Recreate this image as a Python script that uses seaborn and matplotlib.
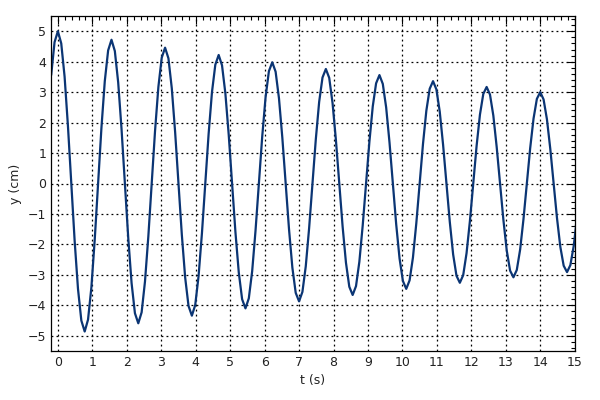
import numpy as np
import pandas as pd
import matplotlib
matplotlib.use("Agg")
import matplotlib.pyplot as plt
from matplotlib.ticker import MultipleLocator
import seaborn as sns

# sampled position of the oscillator, one reading every 0.0972 s starting at t = -0.194 s
t_start = -0.1944
t_step = 0.0972
y_cm = [
    3.56, 4.64,
    5.00, 4.60, 3.51, 1.89, 0.00, -1.88, -3.46, -4.50, -4.86, -4.47, -3.41, -1.84, 0.00, 1.83, 3.36, 4.37,
    4.72, 4.35, 3.32, 1.79, 0.00, -1.78, -3.27, -4.26, -4.59, -4.23, -3.22, -1.74, 0.00, 1.72, 3.17, 4.13,
    4.46, 4.11, 3.13, 1.69, 0.00, -1.68, -3.09, -4.02, -4.34, -3.99, -3.04, -1.64, 0.00, 1.63, 3.00, 3.90,
    4.22, 3.88, 2.96, 1.60, 0.00, -1.59, -2.92, -3.80, -4.10, -3.77, -2.88, -1.55, 0.00, 1.54, 2.83, 3.69,
    3.98, 3.67, 2.80, 1.51, 0.00, -1.50, -2.76, -3.59, -3.87, -3.56, -2.72, -1.47, 0.00, 1.45, 2.68, 3.48,
    3.76, 3.47, 2.64, 1.43, 0.00, -1.41, -2.60, -3.39, -3.66, -3.37, -2.57, -1.38, 0.00, 1.37, 2.53, 3.29,
    3.56, 3.27, 2.50, 1.35, 0.00, -1.34, -2.46, -3.20, -3.46, -3.18, -2.43, -1.31, 0.00, 1.30, 2.39, 3.11,
    3.36, 3.09, 2.36, 1.27, 0.00, -1.26, -2.33, -3.03, -3.26, -3.01, -2.29, -1.24, 0.00, 1.23, 2.26, 2.94,
    3.17, 2.92, 2.23, 1.20, 0.00, -1.19, -2.20, -2.86, -3.08, -2.84, -2.17, -1.17, 0.00, 1.16, 2.13, 2.78,
    3.00, 2.76, 2.11, 1.14, 0.00, -1.13, -2.08, -2.70, -2.91, -2.68, -2.05, -1.10,
]

x_ticks = list(range(0, 16))
y_ticks = list(range(-5, 6))

df = pd.DataFrame({"t": t_start + t_step * np.arange(len(y_cm)), "y": y_cm})

sns.set_style("white")
plt.rcParams["font.family"] = ["DejaVu Sans"]

fig = plt.figure(figsize=(6, 4), dpi=100)
ax = fig.add_axes([0.085, 0.1225, 0.873, 0.8375])

sns.lineplot(data=df, x="t", y="y", ax=ax, color="#0b3574", linewidth=1.6)

ax.set_xlim(-0.2, 15)
ax.set_ylim(-5.5, 5.5)
ax.set_xticks(x_ticks)
ax.set_yticks(y_ticks)
ax.xaxis.set_minor_locator(MultipleLocator(0.2))
ax.yaxis.set_minor_locator(MultipleLocator(0.2))
ax.tick_params(which="both", direction="in", top=True, right=True,
               color="black", labelsize=9, labelcolor="#222222")
ax.tick_params(which="major", length=6, width=0.8)
ax.tick_params(which="minor", length=3, width=0.8)
ax.grid(True, which="major", color="black", linestyle=(0, (1.5, 2.5)), linewidth=0.9)
for s in ax.spines.values():
    s.set_color("black")
    s.set_linewidth(0.9)

ax.set_xlabel("t (s)", fontsize=9, color="#222222")
ax.set_ylabel("y (cm)", fontsize=9, color="#222222")

fig.savefig("out.png", dpi=100, facecolor="white")
